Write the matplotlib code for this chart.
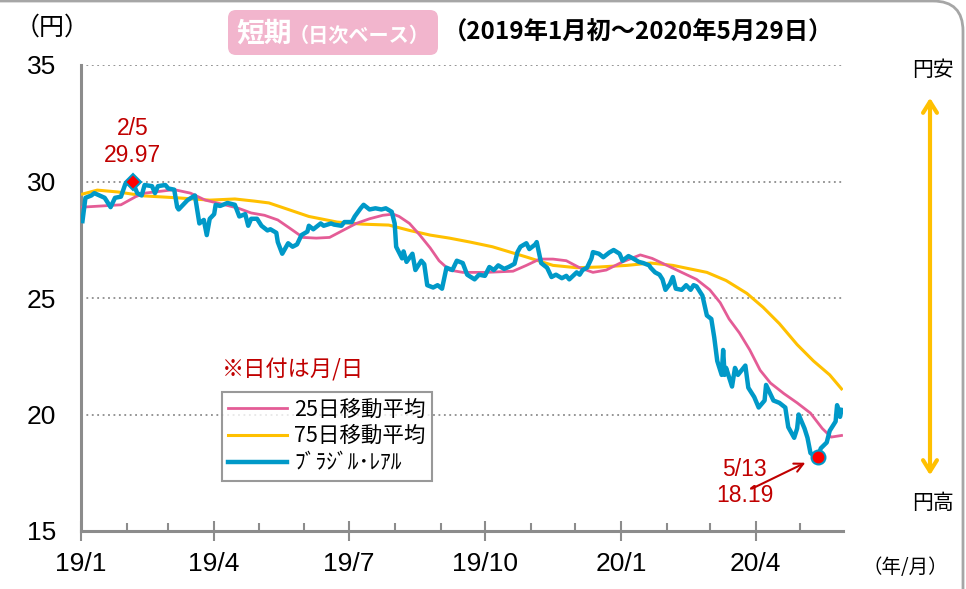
import matplotlib
matplotlib.use("Agg")
import matplotlib.pyplot as plt
import matplotlib.dates as mdates
from matplotlib.patches import FancyBboxPatch, FancyArrowPatch
import numpy as np
import pandas as pd

# ── Data ─────────────────────────────────────────────────────────────────────

real_dates = [
    "2019-01-02", "2019-01-04", "2019-01-08", "2019-01-10", "2019-01-17", "2019-01-21",
    "2019-01-24", "2019-01-28", "2019-01-31", "2019-02-05", "2019-02-08", "2019-02-11",
    "2019-02-13", "2019-02-18", "2019-02-20", "2019-02-22", "2019-02-27", "2019-03-01",
    "2019-03-05", "2019-03-07", "2019-03-08", "2019-03-14", "2019-03-19", "2019-03-22",
    "2019-03-25", "2019-03-27", "2019-03-29", "2019-04-01", "2019-04-02", "2019-04-05",
    "2019-04-10", "2019-04-15", "2019-04-18", "2019-04-22", "2019-04-24", "2019-04-26",
    "2019-04-30", "2019-05-03", "2019-05-07", "2019-05-09", "2019-05-13", "2019-05-14",
    "2019-05-17", "2019-05-21", "2019-05-24", "2019-05-27", "2019-05-30", "2019-06-03",
    "2019-06-04", "2019-06-07", "2019-06-12", "2019-06-14", "2019-06-19", "2019-06-21",
    "2019-06-26", "2019-06-28", "2019-07-03", "2019-07-05", "2019-07-09", "2019-07-11",
    "2019-07-15", "2019-07-19", "2019-07-23", "2019-07-26", "2019-07-30", "2019-08-01",
    "2019-08-02", "2019-08-06", "2019-08-07", "2019-08-09", "2019-08-13", "2019-08-15",
    "2019-08-19", "2019-08-21", "2019-08-23", "2019-08-27", "2019-08-30", "2019-09-02",
    "2019-09-05", "2019-09-09", "2019-09-12", "2019-09-16", "2019-09-19", "2019-09-24",
    "2019-09-27", "2019-10-01", "2019-10-04", "2019-10-07", "2019-10-10", "2019-10-14",
    "2019-10-17", "2019-10-21", "2019-10-23", "2019-10-25", "2019-10-29", "2019-10-31",
    "2019-11-04", "2019-11-05", "2019-11-08", "2019-11-12", "2019-11-15", "2019-11-18",
    "2019-11-22", "2019-11-25", "2019-11-27", "2019-12-02", "2019-12-04", "2019-12-06",
    "2019-12-09", "2019-12-12", "2019-12-13", "2019-12-17", "2019-12-20", "2019-12-24",
    "2019-12-27", "2019-12-31", "2020-01-02", "2020-01-06", "2020-01-09", "2020-01-13",
    "2020-01-16", "2020-01-20", "2020-01-21", "2020-01-24", "2020-01-27", "2020-01-29",
    "2020-01-31", "2020-02-03", "2020-02-05", "2020-02-07", "2020-02-11", "2020-02-14",
    "2020-02-17", "2020-02-19", "2020-02-21", "2020-02-25", "2020-02-28", "2020-03-02",
    "2020-03-04", "2020-03-06", "2020-03-09", "2020-03-10", "2020-03-11", "2020-03-12",
    "2020-03-16", "2020-03-18", "2020-03-20", "2020-03-25", "2020-03-27", "2020-03-31",
    "2020-04-03", "2020-04-07", "2020-04-08", "2020-04-13", "2020-04-17", "2020-04-21",
    "2020-04-23", "2020-04-27", "2020-04-29", "2020-04-30", "2020-05-04", "2020-05-06",
    "2020-05-08", "2020-05-11", "2020-05-13", "2020-05-15", "2020-05-19", "2020-05-21",
    "2020-05-25", "2020-05-26", "2020-05-28", "2020-05-29",
]
real_values = [
    28.3, 29.3, 29.4, 29.5, 29.3, 28.9,
    29.3, 29.35, 29.9, 29.97, 29.5, 29.4,
    29.85, 29.8, 29.5, 29.8, 29.85, 29.7,
    29.65, 28.9, 28.8, 29.2, 29.4, 28.2,
    28.35, 27.7, 28.4, 28.6, 29.0, 28.95,
    29.08, 29.0, 28.5, 28.6, 28.1, 28.4,
    28.4, 28.1, 27.9, 27.95, 27.8, 27.4,
    26.9, 27.35, 27.2, 27.3, 27.7, 27.85,
    28.1, 27.95, 28.2, 28.1, 28.2, 28.15,
    28.1, 28.26, 28.26, 28.5, 28.85, 29.0,
    28.8, 28.85, 28.8, 28.85, 28.7, 28.2,
    27.2, 26.7, 27.0, 26.55, 26.9, 26.2,
    26.6, 26.45, 25.55, 25.45, 25.55, 25.4,
    26.3, 26.2, 26.6, 26.5, 26.0, 25.8,
    26.0, 25.95, 26.33, 26.2, 26.4, 26.25,
    26.33, 26.47, 26.97, 27.2, 27.35, 27.1,
    27.3, 27.4, 26.5, 26.3, 25.9, 26.0,
    25.85, 25.95, 25.8, 26.1, 26.0, 26.2,
    26.3, 26.7, 26.97, 26.9, 26.75, 26.95,
    27.06, 26.9, 26.6, 26.8, 26.7, 26.55,
    26.5, 26.4, 26.3, 26.1, 26.0, 25.8,
    25.35, 25.6, 25.9, 25.4, 25.35, 25.55,
    25.35, 25.55, 25.5, 25.1, 24.25, 24.1,
    23.3, 22.3, 21.7, 22.77, 21.7, 22.0,
    21.2, 22.0, 21.7, 22.1, 21.15, 20.75,
    20.3, 20.6, 21.27, 20.6, 20.5, 20.3,
    19.46, 19.0, 19.4, 20.0, 19.4, 19.0,
    18.35, 18.2, 18.19, 18.55, 18.8, 19.3,
    19.7, 20.4, 19.9, 20.2,
]

ma25_dates = [
    "2019-01-02", "2019-01-28", "2019-02-07", "2019-02-13", "2019-03-05", "2019-03-16",
    "2019-03-26", "2019-04-03", "2019-04-17", "2019-04-26", "2019-05-05", "2019-05-14",
    "2019-05-22", "2019-05-31", "2019-06-09", "2019-06-18", "2019-06-27", "2019-07-06",
    "2019-07-15", "2019-07-24", "2019-07-31", "2019-08-04", "2019-08-11", "2019-08-18",
    "2019-08-25", "2019-08-31", "2019-09-07", "2019-09-16", "2019-10-02", "2019-10-20",
    "2019-10-29", "2019-11-07", "2019-11-16", "2019-11-25", "2019-12-04", "2019-12-13",
    "2019-12-22", "2020-01-02", "2020-01-14", "2020-01-22", "2020-02-01", "2020-02-12",
    "2020-02-21", "2020-03-01", "2020-03-08", "2020-03-14", "2020-03-21", "2020-03-28",
    "2020-04-04", "2020-04-11", "2020-04-20", "2020-04-29", "2020-05-08", "2020-05-16",
    "2020-05-22", "2020-05-29",
]
ma25_values = [
    28.9, 29.0, 29.35, 29.5, 29.65, 29.5,
    29.2, 29.08, 28.86, 28.65, 28.55, 28.35,
    28.0, 27.6, 27.57, 27.6, 27.9, 28.2,
    28.4, 28.55, 28.6, 28.5, 28.2, 27.7,
    27.15, 26.6, 26.2, 26.1, 26.1, 26.15,
    26.4, 26.67, 26.67, 26.6, 26.3, 26.1,
    26.2, 26.55, 26.85, 26.7, 26.4, 26.07,
    25.8, 25.35, 24.8, 24.1, 23.5, 22.77,
    21.9, 21.35, 20.9, 20.5, 20.06, 19.4,
    19.03, 19.1,
]

ma75_dates = [
    "2019-01-02", "2019-01-12", "2019-01-26", "2019-02-13", "2019-03-07", "2019-03-29",
    "2019-04-15", "2019-04-28", "2019-05-08", "2019-05-22", "2019-06-04", "2019-06-23",
    "2019-07-10", "2019-07-28", "2019-08-11", "2019-08-25", "2019-09-07", "2019-09-21",
    "2019-10-06", "2019-10-29", "2019-11-16", "2019-12-02", "2019-12-17", "2020-01-05",
    "2020-01-21", "2020-02-05", "2020-02-28", "2020-03-12", "2020-03-26", "2020-04-06",
    "2020-04-17", "2020-04-29", "2020-05-10", "2020-05-21", "2020-05-29",
]
ma75_values = [
    29.46, 29.63, 29.55, 29.38, 29.3, 29.2,
    29.25, 29.16, 29.08, 28.78, 28.5, 28.26,
    28.17, 28.13, 27.9, 27.7, 27.57, 27.4,
    27.2, 26.76, 26.4, 26.3, 26.33, 26.4,
    26.5, 26.4, 26.1, 25.75, 25.2, 24.6,
    23.9, 23.0, 22.3, 21.7, 21.1,
]

tick_dates = ["2019-01-01", "2019-04-01", "2019-07-01", "2019-10-01", "2020-01-01", "2020-04-01"]
tick_labels = ["19/1", "19/4", "19/7", "19/10", "20/1", "20/4"]
yticks = [15, 20, 25, 30, 35]

series_labels = ["25日移動平均", "75日移動平均", "ﾌﾞﾗｼﾞﾙ･ﾚｱﾙ"]

# ── Style ────────────────────────────────────────────────────────────────────

BLUE = "#0099C8"
PINK = "#E45C96"
YELLOW = "#FFC000"
RED_TXT = "#C00000"
GRAY = "#8C8C8C"
JP = ["Noto Sans CJK JP", "DejaVu Sans"]
NUM = ["Liberation Sans", "Noto Sans CJK JP"]

plt.rcParams["font.family"] = NUM

fig = plt.figure(figsize=(9.66, 5.89), dpi=100)
ax = fig.add_axes([81 / 966, 1 - 531 / 589, 762 / 966, 466 / 589])

rd = pd.to_datetime(real_dates)
rv = np.array(real_values)

ax.plot(pd.to_datetime(ma75_dates), ma75_values, color=YELLOW, lw=2.2, zorder=3,
        label=series_labels[1])
ax.plot(pd.to_datetime(ma25_dates), ma25_values, color=PINK, lw=2.0, zorder=4,
        label=series_labels[0])
ax.plot(rd, rv, color=BLUE, lw=3.2, zorder=5, label=series_labels[2],
        solid_joinstyle="round")

# peak / trough markers
i_hi = int(np.argmax(rv))
i_lo = int(np.argmin(rv))
ax.plot(rd[i_hi], rv[i_hi], marker="D", ms=8, mfc="#FF0000", mec=BLUE, mew=1.5, zorder=6)
ax.plot(rd[i_lo], rv[i_lo], marker="o", ms=10, mfc="#FF0000", mec=BLUE, mew=1.5, zorder=6)

ax.annotate(f"{rd[i_hi].month}/{rd[i_hi].day}\n{rv[i_hi]:.2f}", (rd[i_hi], rv[i_hi]),
            xytext=(0, 40), textcoords="offset pixels", ha="center", va="center",
            fontsize=16.5, color=RED_TXT, linespacing=1.2)
ax.annotate(f"{rd[i_lo].month}/{rd[i_lo].day}\n{rv[i_lo]:.2f}", (rd[i_lo], rv[i_lo]),
            xytext=(-73, -26), textcoords="offset pixels", ha="center", va="center",
            fontsize=16.5, color=RED_TXT, linespacing=1.2)
ax.annotate("", xy=(rd[i_lo], rv[i_lo]), xytext=(-66, -32), textcoords="offset pixels",
            arrowprops=dict(arrowstyle="->", color=RED_TXT, lw=1.5, shrinkA=0, shrinkB=10,
                            mutation_scale=16))

# axes
ax.set_ylim(15, 35)
ax.set_xlim(pd.Timestamp("2019-01-01"), pd.Timestamp("2020-05-30"))
ax.set_yticks(yticks)
ax.set_yticklabels([str(v) for v in yticks], fontsize=19)
ax.tick_params(axis="y", length=0, pad=18)
ax.set_xticks(pd.to_datetime(tick_dates))
ax.set_xticklabels(tick_labels, fontsize=19)
ax.xaxis.set_minor_locator(mdates.MonthLocator())
ax.tick_params(axis="x", which="major", direction="inout", length=14, width=1.5,
               color=GRAY, pad=8)
ax.tick_params(axis="x", which="minor", direction="in", length=6, width=1.5, color=GRAY)
for s in ("top", "right"):
    ax.spines[s].set_visible(False)
for s in ("left", "bottom"):
    ax.spines[s].set_color(GRAY)
    ax.spines[s].set_linewidth(2.2)
for v in yticks[1:]:
    ax.axhline(v, color="#8C8C8C", lw=1.3, ls=(0, (1, 2)), zorder=1)

# legend
handles, labels = ax.get_legend_handles_labels()
order = [1, 0, 2]
leg = ax.legend([handles[i] for i in order], [labels[i] for i in order],
                loc="upper left", bbox_to_anchor=(0.185, 0.298), borderaxespad=0,
                frameon=True, fancybox=False, edgecolor="#808080",
                prop={"family": JP, "size": 15.5}, handlelength=2.7, handletextpad=0.35,
                borderpad=0.3, labelspacing=0.22)
leg.get_frame().set_linewidth(1.5)
leg.set_zorder(7)

ax.text((222 - 81) / 762, (531 - 370) / 466, "※日付は月/日", transform=ax.transAxes,
        ha="left", va="center", fontsize=16, color=RED_TXT, family=JP)

# ── Figure-level text ───────────────────────────────────────────────────────

fig.text(52 / 966, 1 - 28 / 589, "（円）", ha="center", va="center", fontsize=18, family=JP)
fig.text(905 / 966, 1 - 568 / 589, "（年/月）", ha="center", va="center", fontsize=14, family=JP)
fig.text(933 / 966, 1 - 70 / 589, "円安", ha="center", va="center", fontsize=15, family=JP)
fig.text(933 / 966, 1 - 503 / 589, "円高", ha="center", va="center", fontsize=15, family=JP)
fig.patches.append(FancyArrowPatch(
    (930 / 966, 1 - 478 / 589), (930 / 966, 1 - 95 / 589), transform=fig.transFigure,
    arrowstyle="<->,head_length=8,head_width=5", color=YELLOW, lw=3))

# title badge
badge = FancyBboxPatch((228, 589 - 55), 210, 45, boxstyle="round,pad=0,rounding_size=8",
                       transform=None, facecolor="#F2B5CD", edgecolor="none")
fig.patches.append(badge)
fig.text(236 / 966, 1 - 33 / 589, "短期", ha="left", va="center", fontsize=20,
         fontweight="bold", color="white", family=JP)
fig.text(289 / 966, 1 - 35 / 589, "（日次ベース）", ha="left", va="center", fontsize=14.5,
         fontweight="bold", color="white", family=JP)
fig.text(443 / 966, 1 - 33 / 589, "（2019年1月初～2020年5月29日）", ha="left", va="center",
         fontsize=17.5, fontweight="bold", color="black", family=JP)

# outer frame
frame = FancyBboxPatch((-40, -40), 1003, 628, boxstyle="round,pad=0,rounding_size=30",
                       transform=None, facecolor="none", edgecolor="#A6A6A6", lw=2)
fig.patches.append(frame)

fig.savefig("out.png", dpi=100)
